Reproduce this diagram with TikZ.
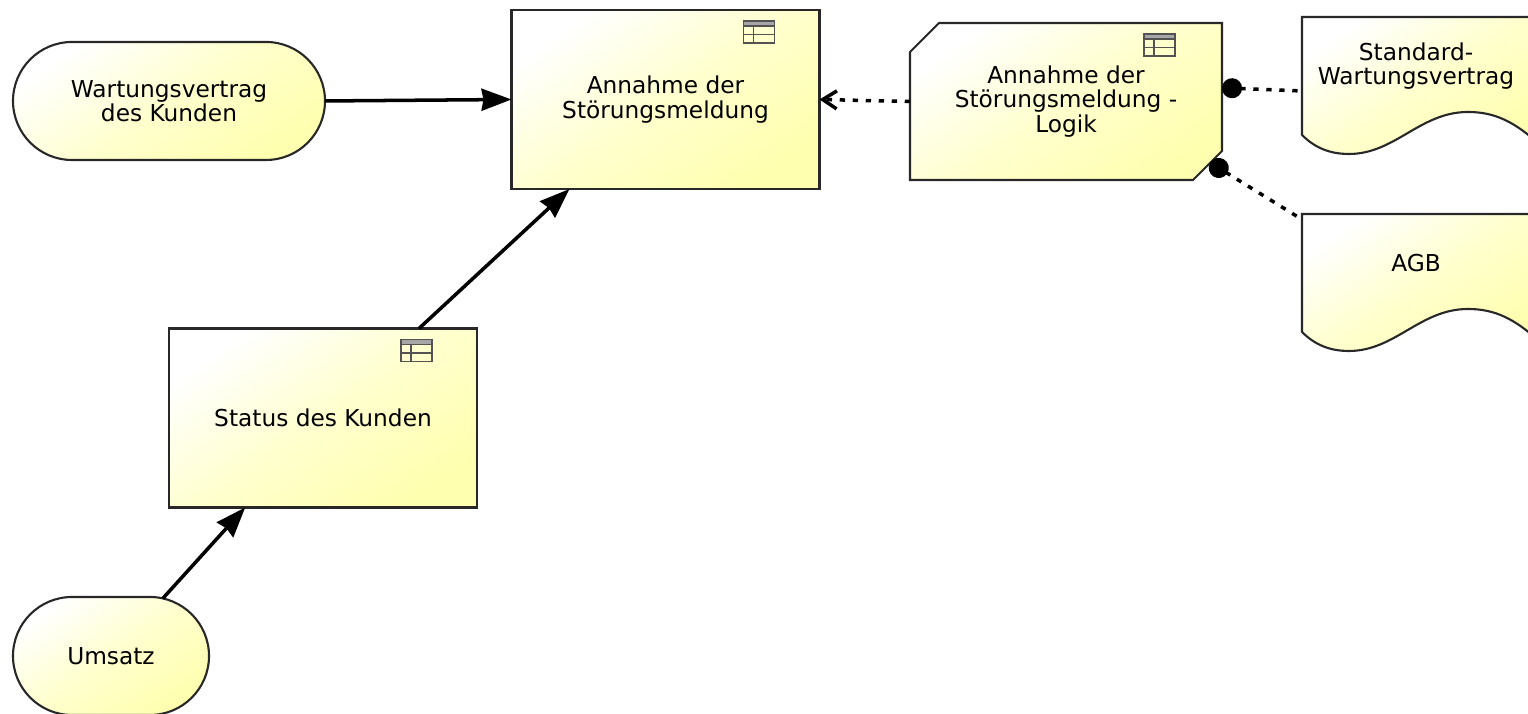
\documentclass[tikz,border=0pt]{standalone}
\usepackage{fontspec}
\setmainfont{DejaVu Sans}
\usetikzlibrary{arrows.meta,shapes.misc}

\definecolor{notefill}{RGB}{255,255,176}
\definecolor{noteline}{RGB}{40,40,40}

\tikzset{
  notestyle/.style={draw=noteline,line width=0.6pt,top color=white,bottom color=notefill,middle color=notefill!62,shading angle=35},
  notetext/.style={font=\fontsize{6.62}{6.9}\selectfont,align=center,inner sep=0pt,text=black},
  databox/.style={notestyle,notetext,rectangle,minimum width=3.08cm,minimum height=1.79cm,outer sep=0pt},
  datapill/.style={notestyle,notetext,rounded rectangle,minimum height=1.18cm,outer sep=0pt},
  logicbox/.style={notestyle,notetext,chamfered rectangle,chamfered rectangle corners={north west,south east},
    chamfered rectangle xsep=0.145cm,chamfered rectangle ysep=0.145cm,minimum width=3.12cm,minimum height=1.57cm,outer sep=0pt},
  docanchor/.style={rectangle,minimum width=2.28cm,minimum height=1.48cm,inner sep=0pt,outer sep=0pt},
  flow/.style={line width=1pt,-{Stealth[length=0.3cm,width=0.22cm,inset=0.02cm]}},
  access/.style={line width=1pt,dash pattern=on 1.5pt off 2.2pt,-{Straight Barb[length=0.14cm,width=0.18cm]}},
  assoc/.style={line width=1pt,dash pattern=on 1.5pt off 2.2pt,shorten >=0.04cm,{Circle[length=0.2cm,width=0.2cm]}-},
  tableicon/.pic={
    \fill[gray!70] (0,0) rectangle (0.31,-0.05);
    \draw[noteline!80,line width=0.3pt] (0,0) rectangle (0.31,-0.22);
    \draw[noteline!80,line width=0.3pt] (0,-0.05) -- (0.31,-0.05);
    \draw[noteline!80,line width=0.3pt] (0,-0.135) -- (0.31,-0.135);
    \draw[noteline!80,line width=0.3pt] (0.10,-0.05) -- (0.10,-0.22);
  }
}

% #1 name, #2 x of left side, #3 y of top side, #4 text, #5 text shift
\newcommand{\docnode}[5]{
  \begin{scope}[shift={(#2,#3)}]
  \draw[notestyle] (0,0) -- (0,-1.18)
    .. controls (0.13,-1.31) and (0.28,-1.37) .. (0.47,-1.37)
    .. controls (0.93,-1.37) and (1.18,-0.95) .. (1.66,-0.95)
    .. controls (1.93,-0.95) and (2.13,-1.05) .. (2.38,-1.28)
    -- (2.38,0) -- cycle;
  \node[docanchor] (#1) at (1.14,-0.74) {};
  \node[notetext] (#1text) at (1.14,#5) {#4};
  \end{scope}
}

\begin{document}
\begin{tikzpicture}

\useasboundingbox (0,0) rectangle (15.28,7.14);
\clip (0,0) rectangle (15.28,7.14);

\node[databox] (annahme) at (6.655,6.145) {Annahme der\\Störungsmeldung};
\node[databox] (status) at (3.23,2.96) {Status des Kunden};
\node[datapill,minimum width=3.12cm] (vertrag) at (1.69,6.13) {Wartungsvertrag\\des Kunden};
\node[datapill,minimum width=1.96cm] (umsatz) at (1.11,0.58) {Umsatz};
\node[logicbox] (logik) at (10.66,6.125) {Annahme der\\Störungsmeldung -\\Logik};

\docnode{standard}{13.02}{6.97}{Standard-\\Wartungsvertrag}{-0.49}
\docnode{agb}{13.02}{5.00}{AGB}{-0.49}

\pic at ([shift={(-0.76,-0.11)}]annahme.north east) {tableicon};
\pic at ([shift={(-0.76,-0.11)}]status.north east) {tableicon};
\pic at ([shift={(-0.78,-0.11)}]logik.north east) {tableicon};

\draw[flow] (vertrag.east) -- (annahme.west);
\draw[flow] (status.43) -- (annahme.-137);
\draw[flow] (umsatz.48) -- (status.229);
\draw[access] (logik.west) -- (annahme.east);
\draw[assoc] (logik.5) -- (standard.west);
\draw[assoc] (logik.-23) -- (agb.149);

\end{tikzpicture}
\end{document}
